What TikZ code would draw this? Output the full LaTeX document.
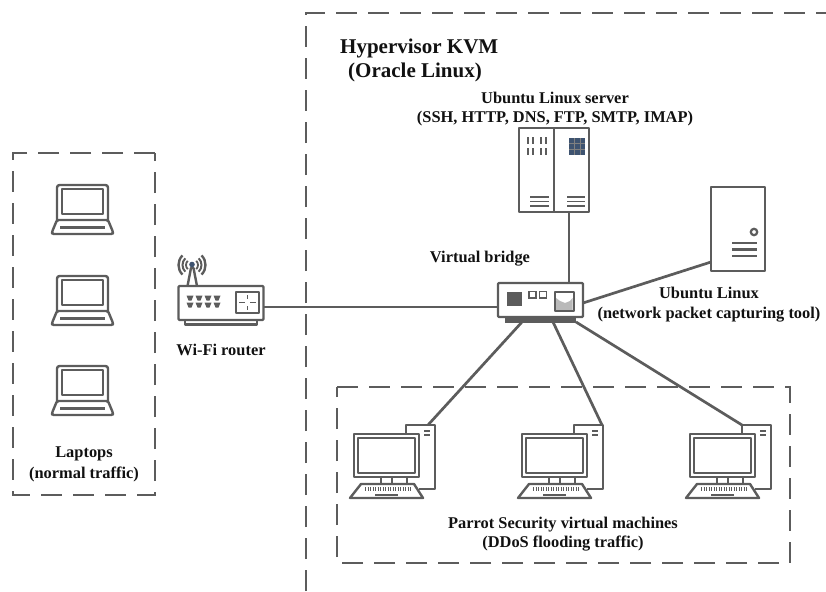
\documentclass[tikz,border=0pt]{standalone}
\usepackage{fontspec}
\setmainfont{Liberation Serif}
\definecolor{ln}{HTML}{5C5C5C}
\definecolor{txt}{HTML}{111111}
\definecolor{chipblue}{HTML}{3E5370}
\tikzset{
  x=1pt,y=-1pt,
  link/.style={draw=ln,line width=2.7pt},
  icon/.style={draw=ln,line width=2.4pt,line join=round},
  thin icon/.style={draw=ln,line width=1.3pt},
  dashbox/.style={draw=ln,line width=2.8pt,dash pattern=on 21pt off 11pt},
  label/.style={font=\bfseries\fontsize{16.4}{18}\selectfont,text=txt,inner sep=0pt,align=center},
  big/.style={font=\bfseries\fontsize{21}{24}\selectfont,text=txt,inner sep=0pt,anchor=west},
  box/.style={icon,fill=white,inner sep=0pt,minimum width=#1},
  laptop/.pic={
    \draw[icon,rounded corners=2.5pt] (0,35) -- (0,0) -- (51,0) -- (51,35);
    \draw[icon] (5,4) rectangle (46,29);
    \draw[icon,rounded corners=1.5pt] (0,35) -- (51,35) -- (56,47) -- (56,49) -- (-5,49) -- (-5,47) -- cycle;
    \draw[ln,line width=2.8pt] (3,42.5) -- (48,42.5);
  },
  computer/.pic={
    \draw[icon,fill=white] (52,9) -- (52,0) -- (81,0) -- (81,64) -- (65,64);
    \coordinate (-nw) at (52,0);
    \coordinate (-ne) at (80,0);
    \coordinate (-mid) at (74,0);
    \draw[thin icon,line width=1.6pt] (70,6) -- (76,6) (70,10) -- (76,10);
    \draw[icon,fill=white] (0,9) rectangle (65,52);
    \draw[icon] (4,13) rectangle (61,48);
    \draw[icon] (27,52) -- (27,59) (38,52) -- (38,59) (53,52) -- (53,59);
    \draw[icon,fill=white] (7,59) -- (60,59) -- (69,73) -- (-4,73) -- cycle;
    \draw[ln,line width=4pt,dash pattern=on 1.4pt off 1.1pt] (11,64) -- (57,64);
    \draw[ln,line width=2.4pt] (21,70) -- (44,70);
  },
}
\begin{document}
\begin{tikzpicture}
\useasboundingbox (0,0) rectangle (826,591);
% dashed groups
\draw[dashbox] (155,153) -- (13,153) -- (13,495) -- (155,495) -- cycle;
\draw[dashbox] (306,591) -- (306,13) -- (826,13);
\draw[dashbox] (337,387) -- (790,387) -- (790,563) -- (337,563) -- cycle;
% devices
\node[box=85pt,minimum height=34pt,rounded corners=1pt] (router) at (221,303) {};
\node[box=85pt,minimum height=34pt,rounded corners=1pt] (bridge) at (540.5,300) {};
\node[box=70pt,minimum height=84pt] (server) at (554,170) {};
\node[box=54pt,minimum height=84pt] (tower) at (738,229) {};
\coordinate (routerE) at (264,307);
\coordinate (bridgeW) at (498,307);
\coordinate (bridgeT) at (569,283);
\coordinate (serverB) at (569,212);
\coordinate (bridgeR) at (583,303);
\coordinate (towerL) at (711,262);
\coordinate (bridgeA) at (522,322);
\coordinate (bridgeB) at (553,322);
\coordinate (bridgeC) at (576,322);
% computers and laptops
\pic (c1) at (354,425) {computer};
\pic (c2) at (522,425) {computer};
\pic (c3) at (690,425) {computer};
\pic (l1) at (57,185) {laptop};
\pic (l2) at (57,276) {laptop};
\pic (l3) at (57,366) {laptop};
% connectors
\draw[link] (routerE) -- (bridgeW);
\draw[link] (bridgeT) -- (serverB);
\draw[link] (bridgeR) -- (towerL);
\draw[link] (bridgeA) -- (c1-mid);
\draw[link] (bridgeB) -- (c2-ne);
\draw[link] (bridgeC) -- (c3-nw);
% router details
\draw[icon] (185,320) -- (185,324.5) -- (257,324.5) -- (257,320);
\draw[icon] (236,292) rectangle (259,313);
\foreach \px in {190,199,208,217}
  \foreach \py in {298,305}
    \fill[ln] (\px-3.5,\py-2.5) -- (\px+3.5,\py-2.5) -- (\px+1.5,\py+2.5) -- (\px-1.5,\py+2.5) -- cycle;
\draw[ln,line width=1pt] (239,302.5) -- (245,302.5) (250,302.5) -- (256,302.5) (247.5,295) -- (247.5,299) (247.5,306) -- (247.5,310);
% antenna
\draw[icon] (187.5,286) -- (191,268) -- (193.5,268) -- (197,286);
\foreach \r/\w in {6/1.8,9.5/2,13.5/2.4}{
  \draw[ln,line width=\w pt] (192,265)++(135:\r) arc (135:225:\r);
  \draw[ln,line width=\w pt] (192,265)++(45:\r) arc (45:-45:\r);
}
\fill[chipblue] (192,264.5) circle (2.8pt);
% bridge details
\fill[ln] (505,317) rectangle (576,322.5);
\fill[ln] (507,292) rectangle (522,306);
\draw[thin icon,line width=1.8pt] (529,291.5) rectangle (536,298);
\draw[thin icon,line width=1.8pt] (539.5,291.5) rectangle (546.5,298);
\fill[gray!55] (556,298) -- (560,301) -- (565,303) -- (570,301) -- (572.5,298) -- (572.5,310) -- (556,310) -- cycle;
\draw[icon] (555,292) rectangle (574,311);
% server details
\draw[icon] (554,128) -- (554,212);
\foreach \vx in {528,533,541,545.5}{
  \draw[ln,line width=2pt] (\vx,137) -- (\vx,144) (\vx,148) -- (\vx,155);
}
\fill[chipblue] (569,138) rectangle (585,155);
\draw[gray,line width=.4pt] (569,143) -- (585,143) (569,149) -- (585,149) (574,138) -- (574,155) (580,138) -- (580,155);
\foreach \ly in {197,201.5,206}{
  \draw[ln,line width=1.4pt] (530,\ly) -- (549,\ly) (567,\ly) -- (585,\ly);
}
% tower details
\draw[ln,line width=2.2pt] (754,232) circle (3.2pt);
\draw[ln,line width=1.5pt] (732,243) -- (757,243) (732,256) -- (757,256);
\draw[ln,line width=2.2pt] (732,249.5) -- (757,249.5);
% labels
\node[big] (hyp) at (340,48) {Hypervisor KVM};
\node[big] (ora) at (348,72) {(Oracle Linux)};
\node[label] (srvlab) at (555,109) {Ubuntu Linux server\\[1pt](SSH, HTTP, DNS, FTP, SMTP, IMAP)};
\node[label] (brlab) at (480,259) {Virtual bridge};
\node[label] (ublab) at (709,305) {Ubuntu Linux\\[2pt](network packet capturing tool)};
\node[label] (wflab) at (221,350) {Wi-Fi router};
\node[label] (laplab) at (84,464) {Laptops\\[3pt](normal traffic)};
\node[label] (parlab) at (563,534) {Parrot Security virtual machines\\[1pt](DDoS flooding traffic)};
\end{tikzpicture}
\end{document}
